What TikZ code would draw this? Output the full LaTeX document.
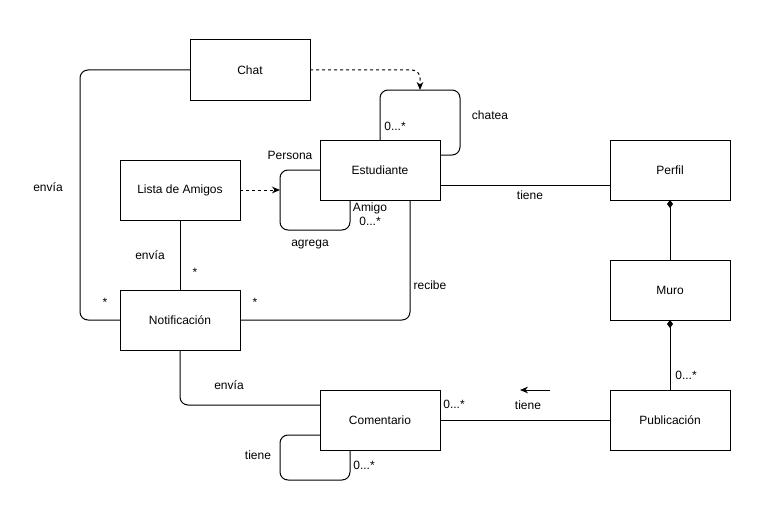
\documentclass[tikz,border=0pt]{standalone}
\usepackage{fontspec}
\setmainfont{Liberation Sans}
\usetikzlibrary{arrows.meta, calc, positioning}

\begin{document}
\begin{tikzpicture}[
    x=0.75pt, y=-0.75pt,
    node distance=45pt,
    cls/.style={draw, line width=0.75pt, minimum width=90pt, minimum height=45pt,
                font=\fontsize{9}{11}\selectfont, inner sep=0pt, outer sep=0pt},
    lbl/.style={font=\fontsize{9}{11}\selectfont, inner sep=0pt},
    assoc/.style={line width=0.75pt, rounded corners=6pt},
    dep/.style={assoc, dash pattern=on 2.25pt off 2.25pt,
                -{Stealth[length=6pt, width=5pt]}},
    comp/.style={assoc, {Diamond[length=6pt, width=4.5pt]}-},
]
\useasboundingbox (0,0) rectangle (770,510);

\node[cls] (chat) at (250,70) {Chat};
\node[cls] (lista) at (180,190) {Lista de Amigos};
\node[cls] (est) at (380,170) {Estudiante};
\node[cls] (perfil) at (670,170) {Perfil};
\node[cls, below=of perfil] (muro) {Muro};
\node[cls, below=52.5pt of muro] (pub) {Publicación};
\node[cls] (notif) at (180,320) {Notificación};
\node[cls] (coment) at (380,420) {Comentario};

% chatea
\draw[assoc] (est.north) -- ++(0,-50) -- ++(80,0) |- ($(est.east)+(0,-15)$);
\coordinate (chatloop) at ($(est.north)+(40,-50)$);
\draw[dep] (chat.east) -| (chatloop);
\node[lbl] (l1) at (395,126) {0...*};
\node[lbl] (l2) at (490,115) {chatea};

% agrega
\draw[assoc] (est.west) -- ++(-40,0) -- ++(0,60) -- ++(70,0) -- ++(0,-30);
\coordinate (agrloop) at ($(est.west)+(-40,0)$);
\draw[dep] (lista.east) -- (lista.east -| agrloop);
\node[lbl] (l3) at (290,155) {Persona};
\node[lbl] (l4) at (370,208) {Amigo};
\node[lbl] (l5) at (370,221) {0...*};
\node[lbl] (l6) at (310,245) {agrega};

% envia (chat)
\draw[assoc] (chat.west) -- ++(-110,0) |- (notif.west);
\node[lbl] (l7) at (48,187) {envía};
\node[lbl] (l8) at (105,302) {*};

% envia (lista)
\draw[assoc] (lista) -- (notif);
\node[lbl] (l9) at (150,255) {envía};
\node[lbl] (l10) at (195,272) {*};

% recibe
\draw[assoc] (notif.east) -| ($(est.south)+(30,0)$);
\node[lbl] (l11) at (255,302) {*};
\node[lbl] (l12) at (430,285) {recibe};

% tiene (perfil)
\draw[assoc] ($(est.east)+(0,15)$) -- ($(perfil.west)+(0,15)$);
\node[lbl] (l13) at (530,195) {tiene};

\draw[comp] (perfil) -- (muro);
\draw[comp] (muro) -- (pub);
\node[lbl] (l14) at (686,375) {0...*};

% envia (comentario)
\draw[assoc] (notif.south) |- ($(coment.west)+(0,-15)$);
\node[lbl] (l15) at (229,385) {envía};

% tiene (publicacion)
\draw[assoc] (coment) -- (pub);
\node[lbl] (l16) at (454,404) {0...*};
\node[lbl] (l17) at (528,405) {tiene};
\draw[line width=0.75pt, -{Stealth[length=6pt, width=5pt]}]
    ($(l17)+(22,-15)$) -- ($(l17)+(-8,-15)$);

% tiene (comentario)
\draw[assoc] ($(coment.west)+(0,15)$) -- ++(-40,0) -- ++(0,45) -- ++(70,0) -- ++(0,-30);
\node[lbl] (l18) at (258,455) {tiene};
\node[lbl] (l19) at (364,465) {0...*};
\end{tikzpicture}
\end{document}
